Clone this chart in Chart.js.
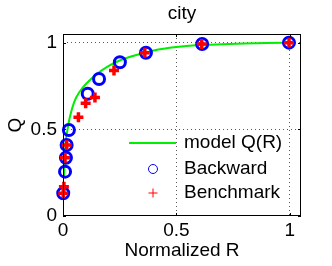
<!DOCTYPE html>
<html>
<head>
<meta charset="utf-8">
<script src="https://cdn.jsdelivr.net/npm/chart.js@4"></script>
<style>
  html, body { margin: 0; padding: 0; background: #fff; }
  #wrap { width: 332px; height: 266px; }
</style>
</head>
<body>
<div id="wrap"><canvas id="cityChart" width="332" height="266"></canvas></div>
<script>
// values
const modelR = [0.004, 0.01, 0.02, 0.03, 0.05, 0.075, 0.1, 0.15, 0.2, 0.25, 0.3, 0.4, 0.5, 0.6, 0.7, 0.8, 0.9, 1.0];
const modelQ = [0.22, 0.4, 0.5, 0.57, 0.66, 0.72, 0.76, 0.82, 0.865, 0.897, 0.92, 0.955, 0.975, 0.986, 0.991, 0.995, 0.998, 1.0];

const backwardR = [0.001, 0.009, 0.013, 0.016, 0.026, 0.109, 0.159, 0.251, 0.366, 0.614, 0.997];
const backwardQ = [0.131, 0.256, 0.336, 0.41, 0.496, 0.705, 0.79, 0.887, 0.942, 0.992, 1.0];

const benchR = [0.001, 0.004, 0.009, 0.016, 0.068, 0.1, 0.141, 0.225, 0.361, 0.612, 0.997];
const benchQ = [0.131, 0.169, 0.336, 0.41, 0.569, 0.65, 0.683, 0.839, 0.942, 0.992, 1.0];

const xTicks = [0, 0.5, 1];
const yTicks = [0, 0.5, 1];
const legendLabels = ["model Q(R)", "Backward", "Benchmark"];

const FONT = "'Liberation Sans', Arial, sans-serif";

const toPoints = (xs, ys) => xs.map((x, i) => ({ x: x, y: ys[i] }));

// title, box, inward ticks and legend like the original figure
const figurePlugin = {
  id: "figure",
  afterDraw(chart) {
    const ctx = chart.ctx;
    const a = chart.chartArea;
    const xs = chart.scales.x;
    const ys = chart.scales.y;
    ctx.save();

    ctx.fillStyle = "#000";
    ctx.font = "19px " + FONT;
    ctx.textAlign = "center";
    ctx.textBaseline = "middle";
    ctx.fillText("city", (a.left + a.right) / 2, 14);

    ctx.strokeStyle = "#000";
    ctx.lineWidth = 1;
    ctx.strokeRect(a.left + 0.5, a.top + 0.5, a.right - a.left - 1, a.bottom - a.top - 1);

    ctx.beginPath();
    xTicks.forEach((t) => {
      const px = Math.round(xs.getPixelForValue(t)) + 0.5;
      ctx.moveTo(px, a.bottom); ctx.lineTo(px, a.bottom - 3);
      ctx.moveTo(px, a.top); ctx.lineTo(px, a.top + 3);
    });
    yTicks.forEach((t) => {
      const py = Math.round(ys.getPixelForValue(t)) + 0.5;
      ctx.moveTo(a.left, py); ctx.lineTo(a.left + 3, py);
      ctx.moveTo(a.right, py); ctx.lineTo(a.right - 3, py);
    });
    ctx.stroke();

    // legend
    const textX = 184;
    const rows = [143, 169, 193];
    ctx.textAlign = "left";
    ctx.fillStyle = "#000";
    legendLabels.forEach((lab, i) => ctx.fillText(lab, textX, rows[i]));

    ctx.strokeStyle = "#00ee00";
    ctx.lineWidth = 2;
    ctx.beginPath();
    ctx.moveTo(129, rows[0]); ctx.lineTo(176, rows[0]);
    ctx.stroke();

    ctx.strokeStyle = "#0000ff";
    ctx.lineWidth = 1;
    ctx.beginPath();
    ctx.arc(153, rows[1], 4.5, 0, Math.PI * 2);
    ctx.stroke();

    ctx.strokeStyle = "#ff0000";
    ctx.beginPath();
    ctx.moveTo(148.5, rows[2]); ctx.lineTo(157.5, rows[2]);
    ctx.moveTo(153, rows[2] - 4.5); ctx.lineTo(153, rows[2] + 4.5);
    ctx.stroke();

    ctx.restore();
  },
};

new Chart(document.getElementById("cityChart"), {
  type: "scatter",
  data: {
    datasets: [
      {
        label: legendLabels[2],
        data: toPoints(benchR, benchQ),
        pointStyle: "cross",
        pointRadius: 5,
        borderColor: "#ff0000",
        backgroundColor: "#ff0000",
        pointBorderWidth: 3.5,
        clip: false,
        order: 0,
      },
      {
        label: legendLabels[1],
        data: toPoints(backwardR, backwardQ),
        pointStyle: "circle",
        pointRadius: 5.5,
        borderColor: "#0000ff",
        backgroundColor: "rgba(0,0,0,0)",
        pointBorderWidth: 3,
        clip: false,
        order: 1,
      },
      {
        label: legendLabels[0],
        type: "line",
        data: toPoints(modelR, modelQ),
        borderColor: "#00ee00",
        borderWidth: 2,
        pointRadius: 0,
        tension: 0.4,
        cubicInterpolationMode: "monotone",
        fill: false,
        order: 2,
      },
    ],
  },
  options: {
    responsive: false,
    animation: false,
    devicePixelRatio: 1,
    layout: { padding: { top: 34, right: 31, left: 0, bottom: 0 } },
    plugins: {
      legend: { display: false },
      tooltip: { enabled: false },
      title: { display: false },
    },
    scales: {
      x: {
        type: "linear",
        min: 0,
        max: 1.05,
        afterBuildTicks: (s) => { s.ticks = xTicks.map((v) => ({ value: v })); },
        afterFit: (s) => { s.height = 50; },
        ticks: {
          color: "#000",
          font: { family: FONT, size: 19 },
          padding: 3,
          maxRotation: 0,
          callback: (v) => String(v),
        },
        grid: {
          drawTicks: false,
          color: (c) => (c.tick && c.tick.value > 0 ? "rgba(0,0,0,0.65)" : "rgba(0,0,0,0)"),
          lineWidth: 1,
        },
        border: { display: false, dash: [1, 3] },
        title: {
          display: true,
          text: "Normalized R",
          color: "#000",
          font: { family: FONT, size: 19 },
          padding: { top: 0, bottom: 4 },
        },
      },
      y: {
        type: "linear",
        min: 0,
        max: 1.05,
        afterBuildTicks: (s) => { s.ticks = yTicks.map((v) => ({ value: v })); },
        afterFit: (s) => { s.width = 63; },
        ticks: {
          color: "#000",
          font: { family: FONT, size: 19 },
          padding: 6,
          callback: (v) => String(v),
        },
        grid: {
          drawTicks: false,
          color: (c) => (c.tick && c.tick.value > 0 ? "rgba(0,0,0,0.65)" : "rgba(0,0,0,0)"),
          lineWidth: 1,
        },
        border: { display: false, dash: [1, 3] },
        title: {
          display: true,
          text: "Q",
          color: "#000",
          font: { family: FONT, size: 19 },
          padding: { top: 4, bottom: 0 },
        },
      },
    },
  },
  plugins: [figurePlugin],
});
</script>
</body>
</html>
